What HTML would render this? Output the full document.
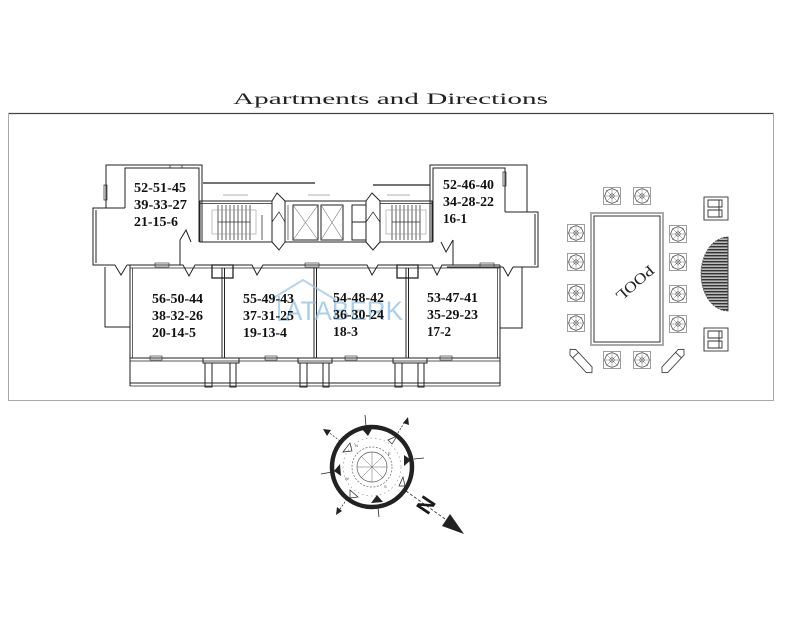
<!DOCTYPE html>
<html><head><meta charset="utf-8"><style>
html,body{margin:0;padding:0;background:#fff;}
svg{display:block;}
</style></head><body>
<svg width="788" height="630" viewBox="0 0 788 630" xmlns="http://www.w3.org/2000/svg">
<defs>
<g id="tbl">
<rect x="-8.5" y="-8.5" width="17" height="17" fill="none" stroke="#888" stroke-width="0.8"/>
<polygon points="0,-7.5 5.3,-5.3 7.5,0 5.3,5.3 0,7.5 -5.3,5.3 -7.5,0 -5.3,-5.3" fill="none" stroke="#555" stroke-width="0.8"/>
<path d="M0,-7.5L0,7.5M-7.5,0L7.5,0M-5.3,-5.3L5.3,5.3M5.3,-5.3L-5.3,5.3" stroke="#777" stroke-width="0.5"/>
<circle r="2.2" fill="none" stroke="#555" stroke-width="0.6"/>
</g>
<pattern id="stripe" width="4" height="3" patternUnits="userSpaceOnUse">
<rect width="4" height="3" fill="#bbb"/>
<rect width="4" height="1.4" fill="#333"/>
</pattern>
</defs>
<rect width="788" height="630" fill="#fff"/>

<!-- title -->
<text x="233" y="104" font-family="Liberation Serif, serif" font-size="16" textLength="315" lengthAdjust="spacingAndGlyphs" fill="#222">Apartments and Directions</text>

<!-- frame -->
<line x1="8" y1="113.5" x2="774" y2="113.5" stroke="#444" stroke-width="1.3"/>
<polyline points="8.5,113 8.5,400.5 773.5,400.5 773.5,113" fill="none" stroke="#aaa" stroke-width="1"/>

<g fill="none" stroke="#222" stroke-width="1">
<!-- left tower -->
<polyline points="106,208 106,165 202,165 202,242"/>
<polyline points="125,208 125,168 199,168 199,242"/>
<polyline points="125,208 93,208 93,265 115,265"/>
<polyline points="96,210 96,263"/>
<polyline points="127,265 180,265 180,240"/>
<polyline points="115,265 121,275 127,265"/>
<polyline points="180,240 186,230 191,242"/>
<rect x="104" y="185" width="3" height="15" stroke-width="0.7"/>
<rect x="170" y="165" width="12" height="3" stroke-width="0.7"/>
<!-- left balcony -->
<polyline points="105,267 105,327 130,327"/>
<!-- right tower -->
<polyline points="430,242 430,165 527,165 527,212"/>
<polyline points="433,242 433,168 505,168 505,212"/>
<polyline points="505,212 538,212 538,267 513,267"/>
<polyline points="535,214 535,265"/>
<polyline points="503,267 447,267"/>
<polyline points="503,267 508,276 513,267"/>
<polyline points="453,265 453,240"/>
<polyline points="441,242 446,252 453,240"/>
<rect x="503" y="172" width="3" height="14" stroke-width="0.7"/>
<!-- right balcony -->
<polyline points="522,267 522,328 500,328"/>

<!-- core -->
<line x1="203" y1="183" x2="315" y2="183" stroke-width="1.2"/>
<line x1="373" y1="185" x2="430" y2="185" stroke-width="1.2"/>
<line x1="223" y1="195" x2="248" y2="195" stroke="#999" stroke-width="0.8"/>
<line x1="308" y1="195" x2="330" y2="195" stroke="#999" stroke-width="0.8"/>
<line x1="387" y1="195" x2="410" y2="195" stroke="#999" stroke-width="0.8"/>
<rect x="200" y="201" width="72" height="41"/>
<rect x="285" y="201" width="81" height="41"/>
<rect x="380" y="201" width="52" height="41"/>
<line x1="200" y1="203.5" x2="272" y2="203.5" stroke-width="0.7"/>
<line x1="380" y1="203.5" x2="432" y2="203.5" stroke-width="0.7"/>
<!-- door swings core -->
<polyline points="272,201 277,193 285,201"/>
<polyline points="272,242 279,250 285,242"/>
<polyline points="272,222 279,212 285,222" stroke-width="0.7"/>
<polyline points="366,201 372,193 380,201"/>
<polyline points="366,242 373,250 380,242"/>
<polyline points="366,222 373,212 380,222" stroke-width="0.7"/>
<!-- elevators -->
<rect x="293" y="205" width="25" height="35"/>
<rect x="321" y="205" width="22" height="35"/>
<path d="M293,205L318,240M318,205L293,240M321,205L343,240M343,205L321,240" stroke="#777" stroke-width="0.6"/>
<rect x="352" y="205" width="14" height="35"/>
<line x1="352" y1="222" x2="366" y2="222"/>
<line x1="288" y1="205" x2="288" y2="240" stroke-width="0.6"/>
</g>
<!-- stair treads -->
<g stroke="#333" stroke-width="0.8">
<path d="M218,205V240M222,205V240M226,205V240M230,205V240M234,205V240M238,205V240M242,205V240M246,205V240M250,205V240"/>
<line x1="218" y1="222" x2="250" y2="222"/>
<line x1="262" y1="215" x2="262" y2="240"/>
<path d="M392,205V240M396,205V240M400,205V240M404,205V240M408,205V240M412,205V240M416,205V240M420,205V240"/>
<line x1="392" y1="222" x2="420" y2="222"/>
</g>
<g stroke="#999" stroke-width="0.6" fill="none">
<rect x="212" y="210" width="44" height="24"/>
<rect x="386" y="210" width="40" height="24"/>
</g>

<!-- units -->
<g fill="none" stroke="#222" stroke-width="1">
<polyline points="130,265 183,265 189,276 195,265 252,265 257,275 263,265 367,265 372,275 378,265 432,265 437,275 442,265 500,265"/>
<line x1="130" y1="268" x2="500" y2="268" stroke-width="0.7"/>
<line x1="130" y1="265" x2="130" y2="386"/>
<line x1="132.5" y1="268" x2="132.5" y2="358" stroke-width="0.7"/>
<line x1="500" y1="265" x2="500" y2="386"/>
<line x1="497.5" y1="268" x2="497.5" y2="358" stroke-width="0.7"/>
<line x1="222" y1="268" x2="222" y2="358"/>
<line x1="224.5" y1="268" x2="224.5" y2="358"/>
<line x1="314" y1="268" x2="314" y2="358"/>
<line x1="316.5" y1="268" x2="316.5" y2="358"/>
<line x1="406" y1="268" x2="406" y2="358"/>
<line x1="408.5" y1="268" x2="408.5" y2="358"/>
<rect x="212" y="265" width="21" height="13" stroke-width="1.3"/>
<rect x="397" y="265" width="21" height="13" stroke-width="1.3"/>
<line x1="130" y1="358" x2="500" y2="358"/>
<line x1="130" y1="361" x2="500" y2="361" stroke-width="0.7"/>
<line x1="130" y1="383" x2="500" y2="383"/>
<line x1="130" y1="386" x2="500" y2="386" stroke-width="0.7"/>
<rect x="203" y="358" width="36" height="5"/>
<rect x="298" y="358" width="34" height="5"/>
<rect x="393" y="358" width="34" height="5"/>
<rect x="205" y="363" width="7" height="24"/>
<rect x="230" y="363" width="6" height="24"/>
<rect x="300" y="363" width="7" height="24"/>
<rect x="323" y="363" width="6" height="24"/>
<rect x="395" y="363" width="7" height="24"/>
<rect x="418" y="363" width="6" height="24"/>
<rect x="150" y="356" width="12" height="4" stroke-width="0.6"/>
<rect x="265" y="356" width="12" height="4" stroke-width="0.6"/>
<rect x="345" y="356" width="12" height="4" stroke-width="0.6"/>
<rect x="440" y="356" width="12" height="4" stroke-width="0.6"/>
<rect x="305" y="263" width="14" height="4" stroke-width="0.6"/>
<rect x="480" y="263" width="14" height="4" stroke-width="0.6"/>
<rect x="155" y="263" width="14" height="4" stroke-width="0.6"/>
</g>

<!-- watermark -->
<g opacity="0.75">
<polyline points="270,300 303,280 336,300" fill="none" stroke="#9cc6e4" stroke-width="2"/>
<polyline points="279,296 279,320 290,320" fill="none" stroke="#9cc6e4" stroke-width="2"/>
<text x="285" y="320" font-family="Liberation Sans, sans-serif" font-size="27" textLength="118" lengthAdjust="spacingAndGlyphs" fill="#8fc0e3">ATABERK</text>
</g>

<!-- unit labels -->
<g font-family="Liberation Serif, serif" font-size="14" fill="#111" font-weight="bold">
<text x="134" y="192" textLength="52" lengthAdjust="spacingAndGlyphs">52-51-45</text>
<text x="134" y="209" textLength="53" lengthAdjust="spacingAndGlyphs">39-33-27</text>
<text x="134" y="226" textLength="44" lengthAdjust="spacingAndGlyphs">21-15-6</text>

<text x="443" y="189" textLength="51" lengthAdjust="spacingAndGlyphs">52-46-40</text>
<text x="443" y="206" textLength="51" lengthAdjust="spacingAndGlyphs">34-28-22</text>
<text x="443" y="223" textLength="24" lengthAdjust="spacingAndGlyphs">16-1</text>

<text x="152" y="303" textLength="51" lengthAdjust="spacingAndGlyphs">56-50-44</text>
<text x="152" y="320" textLength="51" lengthAdjust="spacingAndGlyphs">38-32-26</text>
<text x="152" y="337" textLength="44" lengthAdjust="spacingAndGlyphs">20-14-5</text>

<text x="243" y="303" textLength="51" lengthAdjust="spacingAndGlyphs">55-49-43</text>
<text x="243" y="320" textLength="51" lengthAdjust="spacingAndGlyphs">37-31-25</text>
<text x="243" y="337" textLength="44" lengthAdjust="spacingAndGlyphs">19-13-4</text>

<text x="333" y="302" textLength="51" lengthAdjust="spacingAndGlyphs">54-48-42</text>
<text x="333" y="319" textLength="51" lengthAdjust="spacingAndGlyphs">36-30-24</text>
<text x="333" y="336" textLength="25" lengthAdjust="spacingAndGlyphs">18-3</text>

<text x="427" y="302" textLength="51" lengthAdjust="spacingAndGlyphs">53-47-41</text>
<text x="427" y="319" textLength="51" lengthAdjust="spacingAndGlyphs">35-29-23</text>
<text x="427" y="336" textLength="24" lengthAdjust="spacingAndGlyphs">17-2</text>
</g>

<!-- pool area -->
<rect x="591" y="213" width="72" height="132" fill="none" stroke="#aaa" stroke-width="2"/>
<rect x="594" y="216" width="66" height="126" fill="none" stroke="#333" stroke-width="1"/>
<text x="0" y="0" transform="translate(634,282) rotate(139)" text-anchor="middle" dominant-baseline="middle" font-family="Liberation Serif, serif" font-size="15" textLength="46" lengthAdjust="spacingAndGlyphs" fill="#222">POOL</text>

<use href="#tbl" x="612" y="196"/>
<use href="#tbl" x="642" y="196"/>
<use href="#tbl" x="612" y="360"/>
<use href="#tbl" x="642" y="360"/>
<use href="#tbl" x="576" y="233"/>
<use href="#tbl" x="576" y="262"/>
<use href="#tbl" x="576" y="293"/>
<use href="#tbl" x="576" y="323"/>
<use href="#tbl" x="678" y="234"/>
<use href="#tbl" x="678" y="262"/>
<use href="#tbl" x="678" y="294"/>
<use href="#tbl" x="678" y="324"/>

<!-- lounge chairs -->
<g transform="translate(581,361) rotate(47)" fill="none" stroke="#444" stroke-width="0.9">
<polygon points="-16,0 -12,-4 12,-4 16,0 12,4 -12,4"/>
<line x1="-8" y1="-4" x2="-8" y2="4"/>
</g>
<g transform="translate(673,361) rotate(-47)" fill="none" stroke="#444" stroke-width="0.9">
<polygon points="-16,0 -12,-4 12,-4 16,0 12,4 -12,4"/>
<line x1="8" y1="-4" x2="8" y2="4"/>
</g>

<!-- right side items -->
<g fill="none" stroke="#333" stroke-width="0.9">
<rect x="704" y="197" width="24" height="23"/>
<path d="M708,200h14v7h-14zM708,210h14v7h-14zM719,200v17M704,205v15"/>
<rect x="704" y="328" width="24" height="23"/>
<path d="M708,331h14v7h-14zM708,341h14v7h-14zM719,331v17M704,336v15"/>
</g>
<path d="M728,237 A27,37 0 0 0 728,311 Z" fill="url(#stripe)" stroke="#555" stroke-width="0.8" stroke-dasharray="2,1"/>
<line x1="728" y1="237" x2="728" y2="311" stroke="#444" stroke-width="1"/>

<!-- compass -->
<g fill="none" stroke="#222">
<circle cx="372" cy="467" r="40" stroke-width="4.5"/>
<circle cx="372" cy="467" r="29" stroke="#888" stroke-width="0.6" stroke-dasharray="1.5,3"/>
<circle cx="372" cy="467" r="20" stroke="#666" stroke-width="0.7" stroke-dasharray="2,1.5"/>
<circle cx="372" cy="467" r="15" stroke="#555" stroke-width="0.7"/>
<path d="M372,452V482M357,467H387M361.4,456.4L382.6,477.6M382.6,456.4L361.4,477.6" stroke="#666" stroke-width="0.5"/>
<!-- ticks -->
<line x1="365" y1="415" x2="366" y2="426" stroke-width="0.8"/>
<line x1="414" y1="459" x2="424" y2="458" stroke-width="0.8"/>
<line x1="378" y1="508" x2="379" y2="517" stroke-width="0.8"/>
<line x1="321" y1="474" x2="332" y2="472" stroke-width="0.8"/>
<!-- dashed arrows -->
<line x1="340" y1="441" x2="327" y2="431" stroke-width="0.7" stroke-dasharray="2,1.5"/>
<line x1="396" y1="436" x2="406" y2="420" stroke-width="0.7" stroke-dasharray="2,1.5"/>
<line x1="347" y1="499" x2="338" y2="512" stroke-width="0.7" stroke-dasharray="2,1.5"/>
<line x1="406" y1="491" x2="452" y2="524" stroke-width="0.8" stroke-dasharray="3,2"/>
<!-- small inner outline arrows -->
<polygon points="343,452 350,443 352,451" stroke-width="0.7"/>
<polygon points="388,440 397,436 392,444" stroke-width="0.7"/>
<polygon points="399,486 403,477 405,486" stroke-width="0.7"/>
<polygon points="350,490 358,497 350,498" stroke-width="0.7"/>
</g>
<g fill="#222">
<polygon points="323,429 331,430 327,436"/>
<polygon points="408,417 409,425 403,423"/>
<polygon points="336,515 337,507 342,511"/>
<!-- ring triangles -->
<polygon points="361,428 373,427 368,436"/>
<polygon points="404,455 404,466 411,460"/>
<polygon points="371,503 383,502 377,495"/>
<polygon points="340,464 341,476 334,471"/>
<!-- big arrowhead -->
<polygon points="450,514 442,526 464,534"/>
</g>
<g font-family="Liberation Sans, sans-serif" font-size="4" fill="#444">
<text x="355" y="447">N</text><text x="388" y="455">E</text><text x="384" y="488">S</text><text x="345" y="480">W</text>
</g>
<text x="0" y="0" transform="translate(426,505) rotate(-56)" text-anchor="middle" dominant-baseline="central" font-family="Liberation Sans, sans-serif" font-weight="bold" font-size="22" fill="#1a1a1a">N</text>
</svg>
</body></html>
